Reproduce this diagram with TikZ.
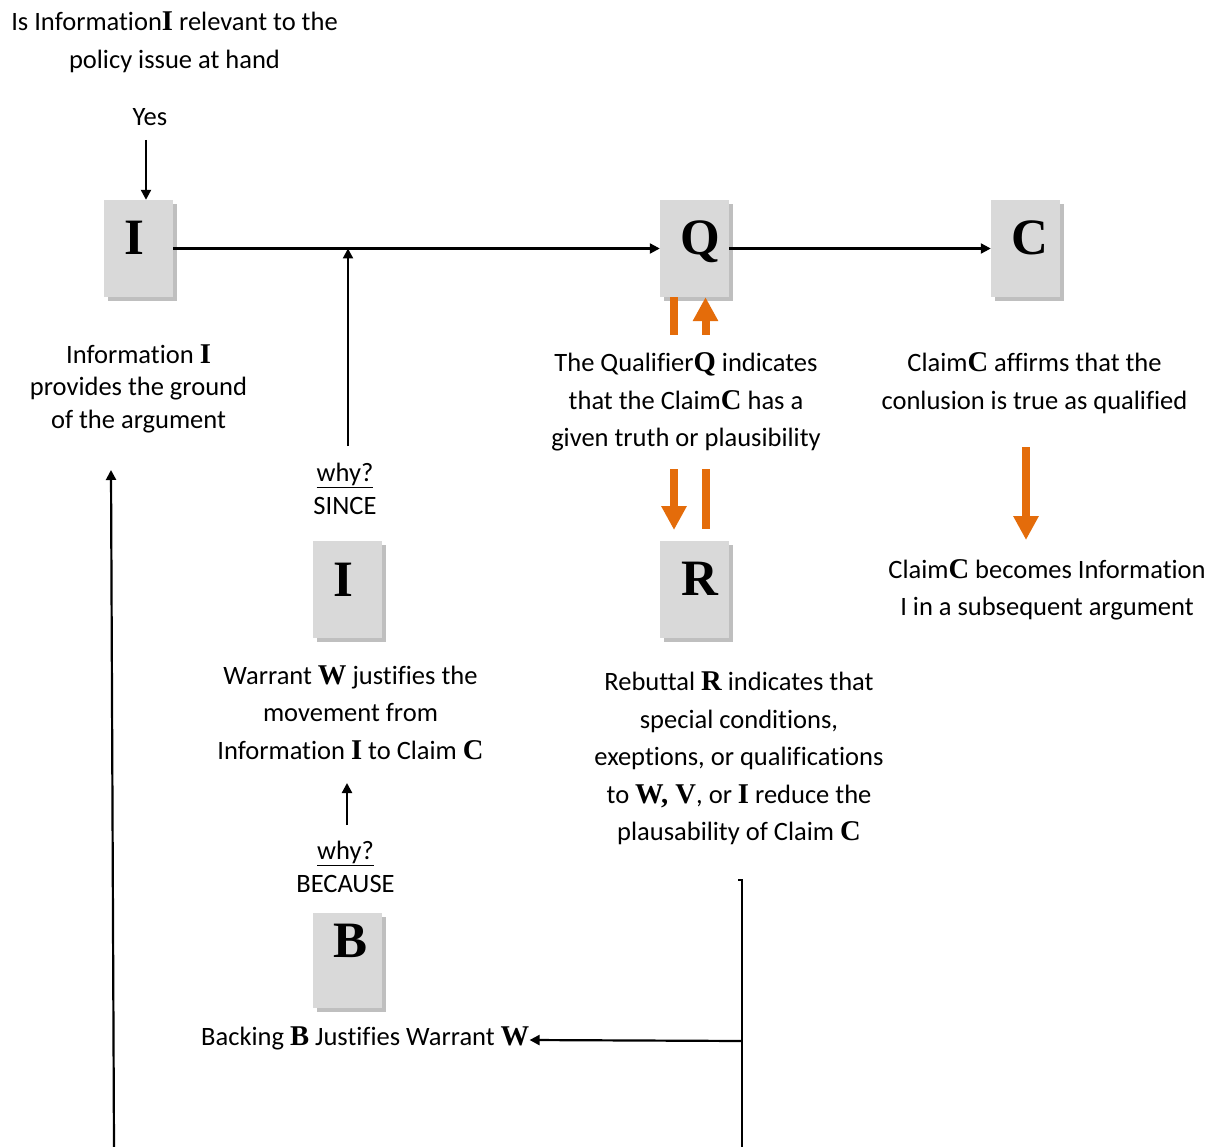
\documentclass[tikz,border=0pt]{standalone}
\usepackage{fontspec}
\setmainfont{Carlito}[Ligatures=NoCommon]
\newfontfamily\tnr[Scale=1.08]{Liberation Serif}
\newfontfamily\tnrbig{Liberation Serif}
\usetikzlibrary{arrows.meta,shadows}
\definecolor{boxgray}{RGB}{217,217,217}
\definecolor{shadegray}{RGB}{191,191,191}
\definecolor{accent}{RGB}{228,108,10}
% bold serif letter inside running text
\newcommand\lt[1]{{\tnr\bfseries #1}}
% letter in a box, nudged sideways by #1
\newcommand\nudge[2]{\hspace*{#1}#2\hspace*{-#1}}

\begin{document}
\begin{tikzpicture}[x=1pt,y=-1pt,
  letterbox/.style={fill=boxgray, minimum width=69pt, minimum height=97pt,
    inner sep=0pt, text height=20pt, text depth=7pt,
    font=\tnrbig\bfseries\fontsize{51}{51}\selectfont,
    general shadow={fill=shadegray, shadow xshift=3.5pt, shadow yshift=-4pt}},
  txt/.style={font=\fontsize{26.5}{37.5}\selectfont, align=center, inner sep=0pt, yshift=-2pt},
  tight/.style={font=\fontsize{26.5}{32.5}\selectfont},
  link/.style={line width=2.2pt, -{Triangle[length=10pt,width=10pt]}},
  plain/.style={line width=2.2pt},
  bar/.style={draw=accent, line width=8pt},
  fat/.style={bar, -{Triangle[length=24pt,width=24pt]}},
]
\fill[white] (0,0) rectangle (1226,1147);
\useasboundingbox (0,0) rectangle (1226,1147);

% the five letter boxes
\node[letterbox] (I1) at (138.5,248.5) {\nudge{-4pt}{I}};
\node[letterbox] (Q)  at (694.5,248.5) {\nudge{6pt}{Q}};
\node[letterbox] (C)  at (1025.5,248.5) {\nudge{4.5pt}{C}};
\node[letterbox] (I2) at (347.5,589.5) {\nudge{-4pt}{I}};
\node[letterbox] (R)  at (694.5,589) {\nudge{5.5pt}{R}};
\node[letterbox, minimum height=95pt, text height=14pt, text depth=21pt] (B) at (347.5,960.5) {\nudge{3.5pt}{B}};

% texts
\node[txt] (ask) at (174.5,40.5) {Is Information\lt{I} relevant to the\\policy issue at hand};
\node[txt, yshift=2pt] (yes) at (150,117) {Yes};
\node[txt, tight] (ground) at (138.5,386.5) {Information \lt{I}\\provides the ground\\of the argument};
\node[txt, tight, yshift=2.5pt] (since) at (345,489.5) {\underline{why?}\\SINCE};
\node[txt] (qual) at (686,400) {The Qualifier\lt{Q} indicates\\that the Claim\lt{C} has a\\given truth or plausibility};
\node[txt] (claim) at (1034.5,381) {Claim\lt{C} affirms that the\\conlusion is true as qualified};
\node[txt] (next) at (1047,588) {Claim\lt{C} becomes Information\\I in a subsequent argument};
\node[txt] (warr) at (350.5,710.5) {Warrant \lt{W} justifies the\\movement from\\Information \lt{I} to Claim \lt{C}};
\node[txt] (reb) at (739,756.5) {Rebuttal \lt{R} indicates that\\special conditions,\\exeptions, or qualifications\\to \lt{W, V}, or \lt{I} reduce the\\plausability of Claim \lt{C}};
\node[txt, tight, yshift=2.5pt] (because) at (345.5,867.5) {\underline{why?}\\BECAUSE};
\node[txt, anchor=west] (back) at (201,1036) {Backing \lt{B} Justifies Warrant \lt{W}};

% free ends of connectors
\coordinate (yesTop) at (146,140);
\coordinate (sinceFoot) at (348,446);
\coordinate (becFoot) at (347,825);
\coordinate (becHead) at (347,783);
\coordinate (groundFoot) at (114,1147);
\coordinate (groundHead) at (111,470);
\coordinate (rebHook) at (738,880);
\coordinate (rebTop) at (742,880);
\coordinate (rebFoot) at (742,1147);
\coordinate (rebMid) at (742,1041);

% black connectors
\draw[link] (I1.east) -- (Q.west);
\draw[link] (Q.east) -- (C.west);
\draw[link] (yesTop) -- (yesTop |- I1.north);
\draw[link] (sinceFoot) -- (sinceFoot |- I1.east);
\draw[link] (becFoot) -- (becHead);
\draw[link] (groundFoot) -- (groundHead);
\draw[plain] (rebHook) -- (rebTop) -- (rebFoot);
\draw[link] (rebMid) -- ([yshift=-2pt]back.east);

% orange arrows
\coordinate (qBarFoot) at (674,335);
\coordinate (qArrFoot) at (705.5,335);
\coordinate (rArrTop) at (674,469);
\coordinate (rArrTip) at (674,530);
\coordinate (rBarTop) at (706,469);
\coordinate (rBarFoot) at (706,529);
\coordinate (cArrTop) at (1026,447);
\coordinate (cArrTip) at (1026,540);
\draw[bar] (Q.south -| qBarFoot) -- (qBarFoot);
\draw[fat] (qArrFoot) -- (Q.south -| qArrFoot);
\draw[fat] (rArrTop) -- (rArrTip);
\draw[bar] (rBarTop) -- (rBarFoot);
\draw[fat] (cArrTop) -- (cArrTip);
\end{tikzpicture}
\end{document}
